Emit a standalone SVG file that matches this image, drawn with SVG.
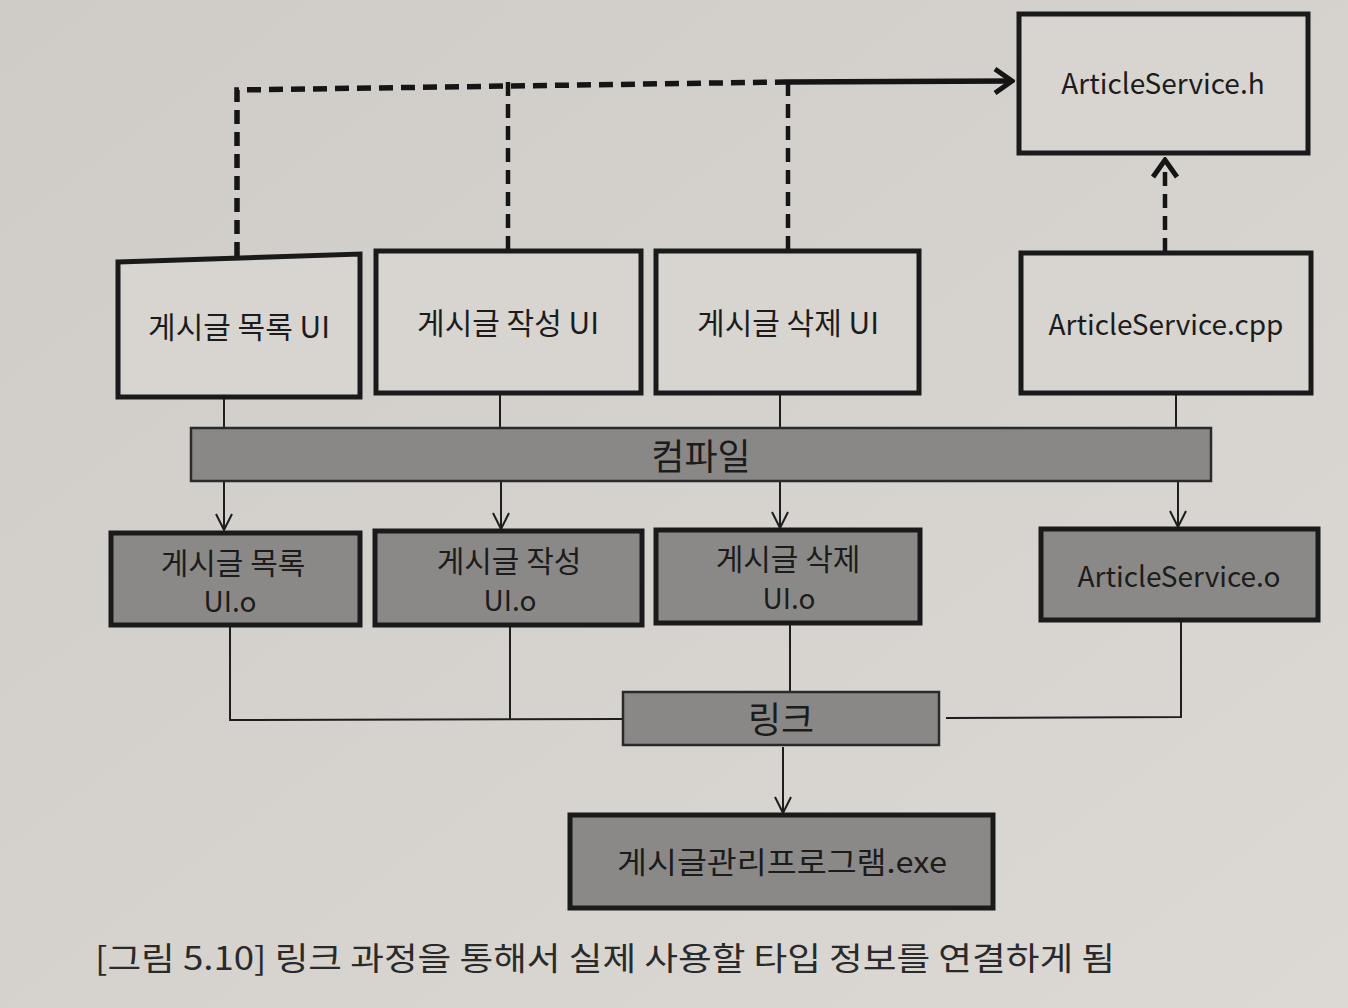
<svg xmlns="http://www.w3.org/2000/svg" width="1348" height="1008" viewBox="0 0 1348 1008">
<defs>
<style>
.box{fill:#d8d5d1;stroke:#1a1a1a;stroke-width:5}
.obj{fill:#8b8987;stroke:#1a1a1a;stroke-width:5}
.bar{fill:#8a8886;stroke:#2a2a2a;stroke-width:2.5}
.t{font-family:"Noto Sans CJK KR","Noto Sans",sans-serif;font-size:28px;fill:#1c1c1c;text-anchor:middle}
.k{font-size:30px}
.big{font-size:36px}
.thin{stroke:#1e1e1e;stroke-width:2;fill:none}
.dash{stroke:#151515;stroke-width:4.5;fill:none;stroke-dasharray:14 8}
.cap{font-family:"Noto Sans CJK KR","Noto Sans",sans-serif;font-size:32px;fill:#2a2a2a}
</style>
<marker id="open" viewBox="0 0 20 20" refX="18" refY="10" markerWidth="20" markerHeight="20" markerUnits="userSpaceOnUse" orient="auto">
<path d="M2,2 L18,10 L2,18" fill="none" stroke="#1e1e1e" stroke-width="2"/>
</marker>
<marker id="openBig" viewBox="0 0 24 30" refX="21" refY="15" markerWidth="24" markerHeight="30" markerUnits="userSpaceOnUse" orient="auto">
<path d="M4,3 L21,15 L4,27" fill="none" stroke="#151515" stroke-width="5"/>
</marker>
<linearGradient id="bg" x1="0" y1="0" x2="1" y2="1">
<stop offset="0" stop-color="#cfccc8"/>
<stop offset="1" stop-color="#dcd9d5"/>
</linearGradient>
</defs>
<rect width="1348" height="1008" fill="url(#bg)"/>

<g id="connectors">
<path class="dash" d="M237,256 L237,90 L785,82" style="stroke-width:5.5"/>
<path d="M785,82 L1012,81" stroke="#151515" stroke-width="5.5" fill="none" marker-end="url(#openBig)"/>
<path class="dash" d="M508,250 L508,80"/>
<path class="dash" d="M788,250 L788,80"/>
<path class="dash" d="M1165,252 L1165,160" marker-end="url(#openBig)"/>
<path class="thin" d="M224,398 L224,428"/>
<path class="thin" d="M500,394 L500,428"/>
<path class="thin" d="M780,394 L780,428"/>
<path class="thin" d="M1176,394 L1176,428"/>
<path class="thin" d="M224,482 L224,530" marker-end="url(#open)"/>
<path class="thin" d="M501,482 L501,529" marker-end="url(#open)"/>
<path class="thin" d="M780,482 L780,528" marker-end="url(#open)"/>
<path class="thin" d="M1178,482 L1178,527" marker-end="url(#open)"/>
<path class="thin" d="M230,627 L230,720 L622,719"/>
<path class="thin" d="M510,626 L510,720"/>
<path class="thin" d="M790,624 L790,692"/>
<path class="thin" d="M1181,621 L1181,717 L946,718"/>
<path class="thin" d="M783,747 L783,813" marker-end="url(#open)"/>
</g>

<g id="n_header">
<rect class="box" x="1019" y="14" width="289" height="139"/>
<text class="t" x="1163" y="94">ArticleService.h</text>
</g>
<g id="n_list_ui">
<path class="box" d="M118,262 L360,254 L360,397 L118,397 Z"/>
<text class="t k" x="239" y="338">게시글 목록 UI</text>
</g>
<g id="n_write_ui">
<rect class="box" x="376" y="251" width="265" height="142"/>
<text class="t k" x="508" y="334">게시글 작성 UI</text>
</g>
<g id="n_delete_ui">
<rect class="box" x="656" y="251" width="263" height="142"/>
<text class="t k" x="788" y="334">게시글 삭제 UI</text>
</g>
<g id="n_cpp">
<rect class="box" x="1021" y="253" width="290" height="140"/>
<text class="t" x="1166" y="335">ArticleService.cpp</text>
</g>
<g id="n_compile">
<rect class="bar" x="191" y="428" width="1020" height="53"/>
<text class="t big" x="701" y="470">컴파일</text>
</g>
<g id="n_list_o">
<rect class="obj" x="111" y="533" width="249" height="92"/>
<text class="t k" x="233" y="574">게시글 목록</text>
<text class="t" x="230" y="612">UI.o</text>
</g>
<g id="n_write_o">
<rect class="obj" x="375" y="531" width="267" height="94"/>
<text class="t k" x="509" y="572">게시글 작성</text>
<text class="t" x="510" y="611">UI.o</text>
</g>
<g id="n_delete_o">
<rect class="obj" x="656" y="530" width="264" height="93"/>
<text class="t k" x="788" y="570">게시글 삭제</text>
<text class="t" x="789" y="609">UI.o</text>
</g>
<g id="n_service_o">
<rect class="obj" x="1041" y="529" width="277" height="91"/>
<text class="t" x="1179" y="587">ArticleService.o</text>
</g>
<g id="n_link">
<rect class="bar" x="623" y="692" width="316" height="53"/>
<text class="t big" x="781" y="733">링크</text>
</g>
<g id="n_exe">
<rect class="obj" x="570" y="815" width="423" height="93"/>
<text class="t k" x="782" y="873" textLength="330" lengthAdjust="spacingAndGlyphs">게시글관리프로그램.exe</text>
</g>
<text class="cap" x="95" y="970" textLength="1020" lengthAdjust="spacingAndGlyphs">[그림 5.10] 링크 과정을 통해서 실제 사용할 타입 정보를 연결하게 됨</text>
</svg>
